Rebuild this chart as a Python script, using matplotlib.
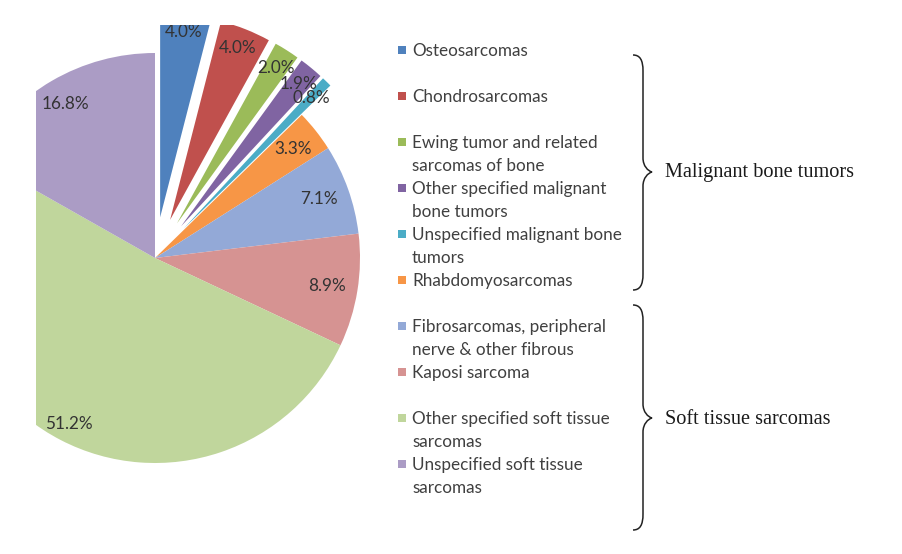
import math
import matplotlib
matplotlib.use("Agg")
import matplotlib.pyplot as plt
from matplotlib.patches import Rectangle, PathPatch
from matplotlib.path import Path

# ---- data ----
categories = [
    "Osteosarcomas",
    "Chondrosarcomas",
    "Ewing tumor and related\nsarcomas of bone",
    "Other specified malignant\nbone tumors",
    "Unspecified malignant bone\ntumors",
    "Rhabdomyosarcomas",
    "Fibrosarcomas, peripheral\nnerve & other fibrous",
    "Kaposi sarcoma",
    "Other specified soft tissue\nsarcomas",
    "Unspecified soft tissue\nsarcomas",
]
values = [4.0, 4.0, 2.0, 1.9, 0.8, 3.3, 7.1, 8.9, 51.2, 16.8]
exploded = [True, True, True, True, True, False, False, False, False, False]
colors = ["#4F81BD", "#C0504D", "#9BBB59", "#8064A2", "#4BACC6",
          "#F79646", "#93A9D7", "#D69392", "#C0D69C", "#AB9CC5"]
groups = ["Malignant bone tumors", "Soft tissue sarcomas"]

# per-label radial placement (layout only)
label_dist = [0.91, 0.90, 0.90, 0.90, 0.89, 0.86, 0.85, 0.85, 0.91, 0.87]

W, H = 902, 554
fig = plt.figure(figsize=(W / 100, H / 100), dpi=100)

# pie axes (data units = pixels, y up), clipped at left/top like the reference
left_px, top_px, right_px = 36, 25, 390
ax = fig.add_axes([left_px / W, 0, (right_px - left_px) / W, (H - top_px) / H])
cx, cy, R = 155, H - 258, 205
explode = [0.2 * R if e else 0.0 for e in exploded]
wedges, texts, autotexts = ax.pie(
    values, colors=colors, explode=explode, startangle=90, counterclock=False,
    center=(cx, cy), radius=R, autopct="%1.1f%%", pctdistance=0.88,
    textprops=dict(fontsize=12.3, color="#333333", family="Lato"),
    wedgeprops=dict(linewidth=0), frame=False)
for w in wedges:
    w.set_clip_path(ax.patch)
    w.set_clip_on(True)
for w, t, d in zip(wedges, autotexts, label_dist):
    wx, wy = w.center
    ang = math.radians(0.5 * (w.theta1 + w.theta2))
    t.set_position((wx + d * R * math.cos(ang), wy + d * R * math.sin(ang)))
    t.set_clip_on(True)
ax.set_xlim(left_px, right_px)
ax.set_ylim(0, H - top_px)
ax.set_aspect("auto")
ax.axis("off")

# overlay axes in image pixel coordinates
ov = fig.add_axes([0, 0, 1, 1], zorder=5)
ov.set_xlim(0, W)
ov.set_ylim(H, 0)
ov.axis("off")

# legend
y0, step = 50, 46
for i, (lab, col) in enumerate(zip(categories, colors)):
    y = y0 + i * step
    ov.add_patch(Rectangle((398, y - 4), 8, 8, facecolor=col, edgecolor="none"))
    ov.text(412, y - 7, lab, fontsize=12.3, family="Lato", color="#404040",
            va="top", ha="left", linespacing=1.55)

# braces
def brace(xh, xl, xt, ytop, ytip, ybot):
    verts = [(xh, ytop), (xl - 3, ytop), (xl, ytop + 5), (xl, ytop + 16),
             (xl, ytip - 14),
             (xl, ytip - 6), (xt - 4, ytip - 1), (xt, ytip),
             (xt - 4, ytip + 1), (xl, ytip + 6), (xl, ytip + 14),
             (xl, ybot - 16),
             (xl, ybot - 5), (xl - 3, ybot), (xh, ybot)]
    codes = [Path.MOVETO, Path.CURVE4, Path.CURVE4, Path.CURVE4,
             Path.LINETO,
             Path.CURVE4, Path.CURVE4, Path.CURVE4,
             Path.CURVE4, Path.CURVE4, Path.CURVE4,
             Path.LINETO,
             Path.CURVE4, Path.CURVE4, Path.CURVE4]
    ov.add_patch(PathPatch(Path(verts, codes), facecolor="none",
                           edgecolor="#222222", linewidth=1.1))

brace(633, 643, 652, 55, 172, 290)
brace(633, 643, 652, 305, 418, 530)
ov.text(665, 172, groups[0], fontsize=14.6, family="Liberation Serif",
        color="#1a1a1a", va="center", ha="left")
ov.text(665, 420, groups[1], fontsize=14.6, family="Liberation Serif",
        color="#1a1a1a", va="center", ha="left")

fig.savefig("out.png", dpi=100, facecolor="white")
